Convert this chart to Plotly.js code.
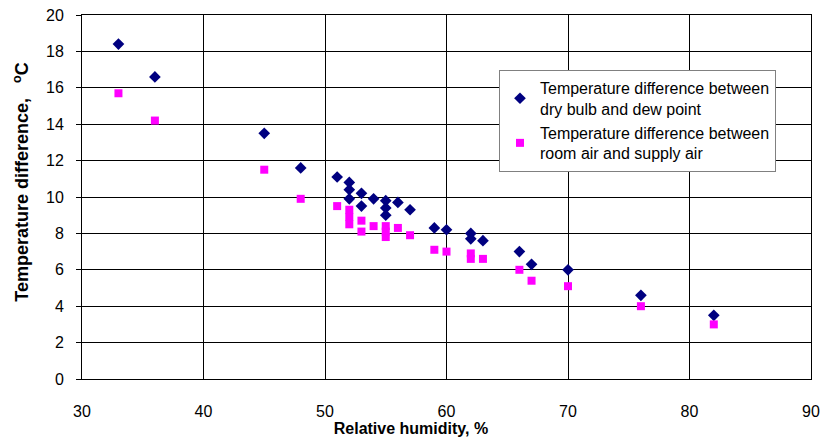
<!DOCTYPE html>
<html>
<head>
<meta charset="utf-8">
<script src="https://cdn.plot.ly/plotly-3.0.1.min.js"></script>
<style>html,body{margin:0;padding:0;background:#fff;}#chart{width:822px;height:443px;}</style>
</head>
<body>
<div id="chart"></div>
<script>
const humidity = [33, 36, 45, 48, 51, 52, 52, 52, 53, 53, 54, 55, 55, 55, 56, 57, 59, 60, 62, 62, 63, 66, 67, 70, 76, 82];
const dryDew = [18.4, 16.6, 13.5, 11.6, 11.1, 10.8, 10.4, 9.9, 10.2, 9.5, 9.9, 9.8, 9.4, 9.0, 9.7, 9.3, 8.3, 8.2, 8.0, 7.7, 7.6, 7.0, 6.3, 6.0, 4.6, 3.5];
const roomSupply = [15.7, 14.2, 11.5, 9.9, 9.5, 9.3, 8.9, 8.5, 8.7, 8.1, 8.4, 8.4, 8.1, 7.8, 8.3, 7.9, 7.1, 7.0, 6.9, 6.6, 6.6, 6.0, 5.4, 5.1, 4.0, 3.0];
const seriesNames = ["Temperature difference between<br>dry bulb and dew point", "Temperature difference between<br>room air and supply air"];
const xTicks = [30, 40, 50, 60, 70, 80, 90];
const yTicks = [0, 2, 4, 6, 8, 10, 12, 14, 16, 18, 20];

const traces = [
  {x: humidity, y: dryDew, name: seriesNames[0], type: 'scatter', mode: 'markers',
   marker: {symbol: 'diamond', size: 9, color: '#000080'}},
  {x: humidity, y: roomSupply, name: seriesNames[1], type: 'scatter', mode: 'markers',
   marker: {symbol: 'square', size: 8, color: '#FF00FF'}}
];
const font = {family: 'Arial, "Liberation Sans", sans-serif', color: '#000'};
const pad = n => '&nbsp;'.repeat(n);
const layout = {
  width: 822, height: 443,
  margin: {l: 82, r: 11, t: 15, b: 64},
  paper_bgcolor: '#fff', plot_bgcolor: '#fff',
  font: Object.assign({size: 15}, font),
  showlegend: true,
  legend: {x: 0.572, y: 0.849, xanchor: 'left', yanchor: 'top',
    bgcolor: '#fff', bordercolor: '#808080', borderwidth: 1,
    font: Object.assign({size: 16}, font), tracegroupgap: 0},
  xaxis: {range: [30, 90], tickvals: xTicks, ticktext: xTicks.map(String),
    showgrid: true, gridcolor: '#000', gridwidth: 1,
    showline: true, linecolor: '#000', linewidth: 1, mirror: true,
    ticks: '', ticklabelstandoff: 18, zeroline: false,
    tickfont: Object.assign({size: 16}, font),
    title: {text: '<b>Relative humidity, %' + pad(16) + '</b>', font: Object.assign({size: 16}, font), standoff: 2}},
  yaxis: {range: [0, 20], tickvals: yTicks, ticktext: yTicks.map(String),
    showgrid: true, gridcolor: '#000', gridwidth: 1,
    showline: true, linecolor: '#000', linewidth: 1, mirror: true,
    ticks: 'outside', ticklen: 5, tickcolor: '#000', zeroline: false,
    ticklabelstandoff: 9,
    tickfont: Object.assign({size: 16}, font),
    title: {text: '<b>' + pad(6) + 'Temperature difference,&nbsp;&nbsp; <sup>o</sup>C</b>', font: Object.assign({size: 18}, font), standoff: 12}}
};
Plotly.newPlot('chart', traces, layout, {displayModeBar: false, staticPlot: true});
</script>
</body>
</html>
